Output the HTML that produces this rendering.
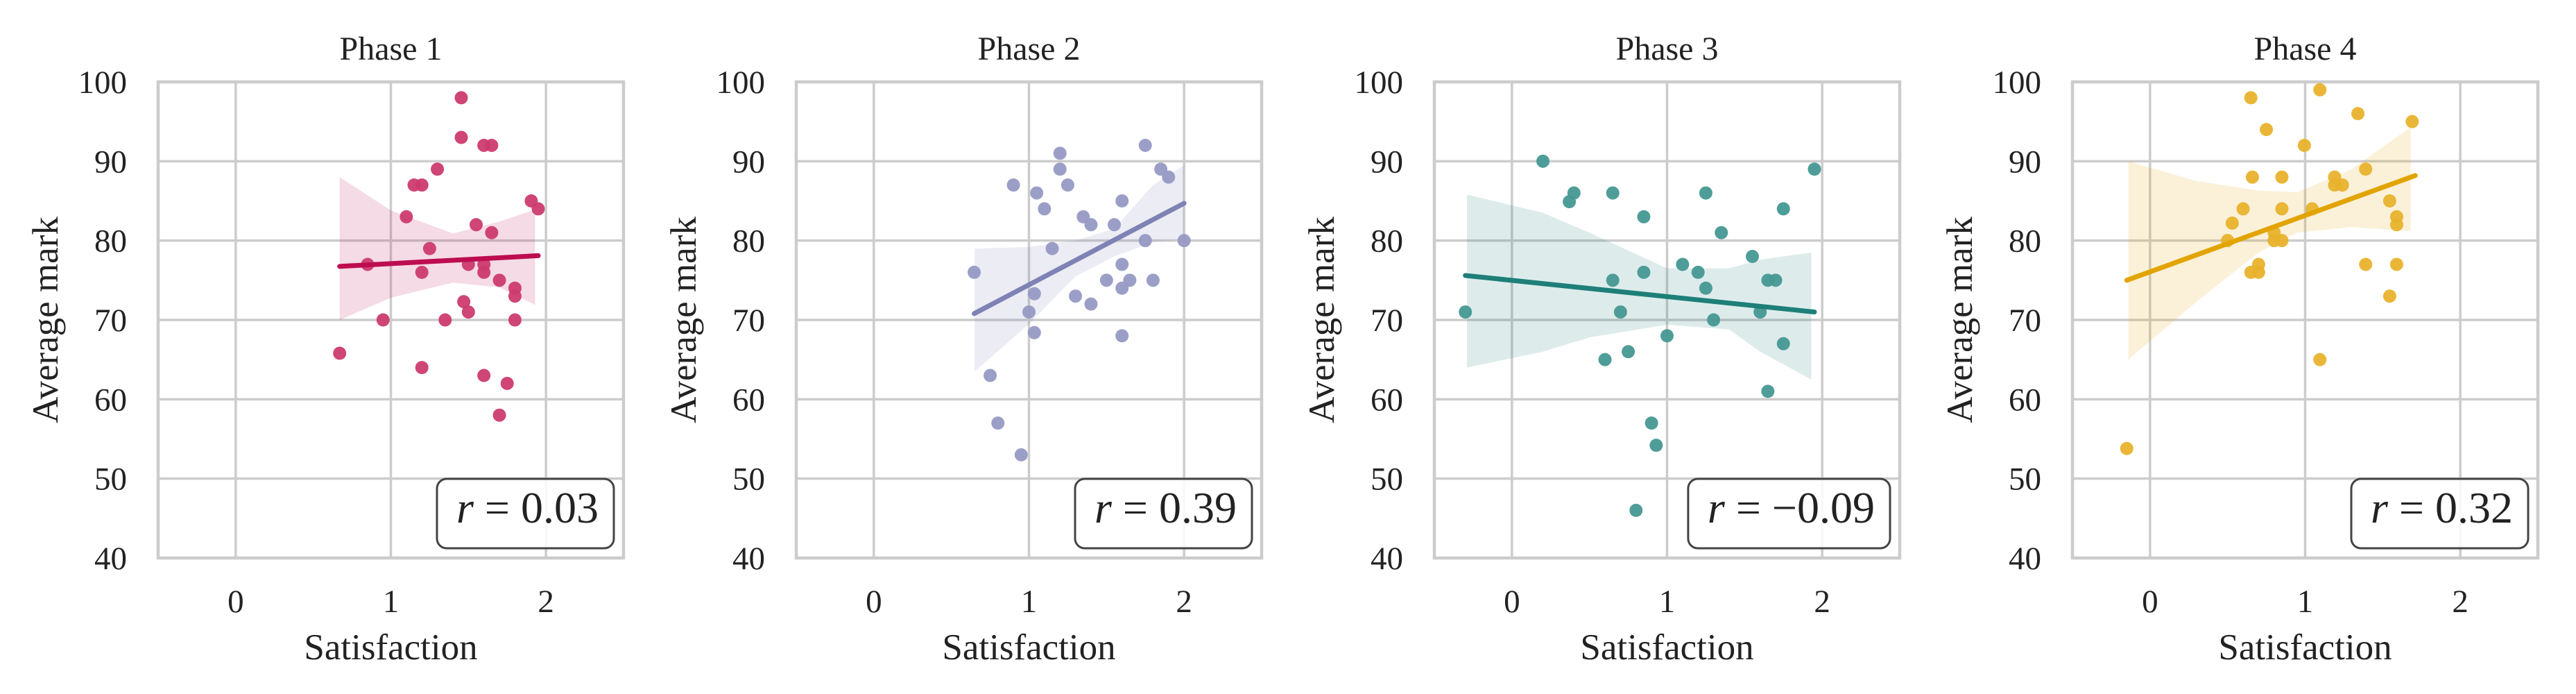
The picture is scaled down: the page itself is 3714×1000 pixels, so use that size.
<!DOCTYPE html>
<html><head><meta charset="utf-8"><style>
html,body{margin:0;padding:0;background:#fff;}
svg{display:block;font-family:"Liberation Serif",serif;}
</style></head><body>
<svg id="fig" width="3714" height="1000" viewBox="0 0 3714 1000" xmlns="http://www.w3.org/2000/svg"></svg>
<script>
const phaseTitles = ["Phase 1","Phase 2","Phase 3","Phase 4"];
const rLabels = ["0.03","0.39","\u22120.09","0.32"];
const xTicks = [0,1,2];
const yTicks = [40,50,60,70,80,90,100];
const p1x = [1.454,1.454,1.60,1.65,1.30,1.15,1.20,1.10,1.905,1.95,1.55,1.65,1.25,0.85,1.50,1.60,1.20,1.60,1.70,1.80,1.80,1.47,1.50,0.95,1.35,1.80,0.67,1.20,1.60,1.75,1.70];
const p1y = [98,93,92,92,89,87,87,83,85,84,82,81,79,77,77,77,76,76,75,74,73,72.3,71,70,70,70,65.8,64,63,62,58];
const p2x = [0.647,0.90,1.05,1.20,1.20,1.25,1.10,1.75,1.85,1.90,1.60,1.35,1.40,1.55,1.15,1.75,2.00,1.60,1.50,1.65,1.80,1.60,1.035,1.30,1.40,1.00,1.035,1.60,0.75,0.80,0.95];
const p2y = [76,87,86,91,89,87,84,92,89,88,85,83,82,82,79,80,80,77,75,75,75,74,73.3,73,72,71,68.4,68,63,57,53];
const p3x = [-0.30,0.20,0.37,0.40,0.65,0.85,0.65,0.85,0.70,0.60,0.75,1.00,1.10,1.20,1.25,1.25,1.35,1.30,1.55,1.65,1.70,1.60,1.75,1.75,1.65,1.95,0.90,0.93,0.80];
const p3y = [71,90,84.9,86,86,83,75,76,71,65,66,68,77,76,86,74,81,70,78,75,75,71,84,67,61,89,57,54.2,46];
const p4x = [-0.15,0.65,1.095,0.75,1.34,1.69,0.995,0.66,0.85,1.19,1.19,1.24,1.39,1.545,0.60,0.85,1.045,0.53,1.59,1.59,0.50,0.80,0.80,0.85,0.70,0.65,0.70,1.39,1.59,1.545,1.095];
const p4y = [53.8,98,99,94,96,95,92,88,88,88,87,87,89,85,84,84,84,82.2,83,82,80,81,80,80,77,76,76,77,77,73,65];
const seriesX = [p1x,p2x,p3x,p4x];
const seriesY = [p1y,p2y,p3y,p4y];
// fitted regression endpoints
const fitX = [[0.67,1.95],[0.647,2.0],[-0.30,1.95],[-0.15,1.71]];
const fitY = [[76.75,78.1],[70.8,84.7],[75.6,71.0],[75.0,88.2]];
// confidence band samples
const bandX1 = [0.67,1.0,1.4,1.7,1.93];
const bandUp1 = [88,83.8,80.9,82.4,83.9];
const bandLo1 = [70,72.8,74.7,74.1,71.9];
const bandX2 = [0.65,1.0,1.3,1.55,1.8,2.0];
const bandUp2 = [79,79.2,80,81.5,87,89.5];
const bandLo2 = [63.5,69.5,75.5,78,79.8,80.2];
const bandX3 = [-0.29,0.2,0.5,1.0,1.4,1.6,1.93];
const bandUp3 = [85.8,83.5,81,76.5,76.5,77.6,78.5];
const bandLo3 = [64,66,67.8,69.4,68.8,66,62.5];
const bandX4 = [-0.14,0.3,0.7,0.95,1.3,1.68];
const bandUp4 = [90,87.5,86.3,86.1,89,94.3];
const bandLo4 = [65,72.3,78.5,81,81.7,81.2];
const bandXs=[bandX1,bandX2,bandX3,bandX4], bandUps=[bandUp1,bandUp2,bandUp3,bandUp4], bandLos=[bandLo1,bandLo2,bandLo3,bandLo4];
const lineColors = ["#bd0d50","#7e82b4","#1e7f79","#e2a400"];
const dotColors = ["#cc3b6e","#969ac4","#469892","#e8b22c"];

const NS="http://www.w3.org/2000/svg";
const svg=document.getElementById('fig');
function mk(tag,attrs,parent){const e=document.createElementNS(NS,tag);for(const k in attrs)e.setAttribute(k,attrs[k]);(parent||svg).appendChild(e);return e;}
const lefts=[228,1148,2068,2988], W=671, topY=118, bottomY=804;

phaseTitles.forEach((title,i)=>{
  const L=lefts[i];
  const g=mk('g',{});
  
  
  const sx=v=>L+(v+0.5)/3*W;
  const sy=v=>bottomY-(v-40)/60*(bottomY-topY);
  yTicks.forEach(t=>{
    const l=mk('line',{x1:L,x2:L+W,y1:sy(t),y2:sy(t),stroke:'#cccccc','stroke-width':3.5},g);
    
    
    const tx=mk('text',{x:L-45,y:sy(t)+16,'text-anchor':'end','font-size':47,fill:'#222'},g);
    tx.textContent=t;
    
    
  });
  xTicks.forEach(t=>{
    const l=mk('line',{x1:sx(t),x2:sx(t),y1:topY,y2:bottomY,stroke:'#cccccc','stroke-width':3.5},g);
    
    
    const tx=mk('text',{x:sx(t),y:882,'text-anchor':'middle','font-size':47,fill:'#222'},g);
    tx.textContent=t;
    
    
  });
  const fr=mk('rect',{x:L,y:topY,width:W,height:bottomY-topY,fill:'none',stroke:'#cccccc','stroke-width':4.5},g);
  
  
  const bxs=bandXs[i], bu=bandUps[i], bl=bandLos[i];
  const pts=bxs.map((x,k)=>sx(x)+','+sy(bu[k])).concat(bxs.map((x,k)=>sx(x)+','+sy(bl[k])).reverse());
  const band=mk('polygon',{points:pts.join(' '),fill:lineColors[i],'fill-opacity':0.15},g);
  
  
  const xs=seriesX[i], ys=seriesY[i];
  xs.forEach((x,k)=>{
    const c=mk('circle',{cx:sx(x),cy:sy(ys[k]),r:9.5,fill:dotColors[i],'fill-opacity':0.95},g);
    
    
  });
  const rl=mk('line',{x1:sx(fitX[i][0]),y1:sy(fitY[i][0]),x2:sx(fitX[i][1]),y2:sy(fitY[i][1]),stroke:lineColors[i],'stroke-width':7,'stroke-linecap':'round'},g);
  
  
  const bx=mk('rect',{y:690,height:100,rx:14,fill:'#fff','fill-opacity':0.85,stroke:'#444','stroke-width':3},g);
  
  
  const rt=mk('text',{x:L+W-36,y:753,'text-anchor':'end','font-size':64,fill:'#222'},g);
  
  
  const ri=mk('tspan',{'font-style':'italic'},rt);ri.textContent='r';
  const rv=mk('tspan',{},rt);rv.textContent=' = '+rLabels[i];
  let tw=0;
  try{tw=rt.getComputedTextLength();}catch(e){tw=0;}
  if(!tw||!isFinite(tw))tw=(2+rLabels[i].length+2)*30;
  bx.setAttribute('x',L+W-14-tw-50);bx.setAttribute('width',tw+50);
  const tt=mk('text',{x:L+W/2,y:86,'text-anchor':'middle','font-size':48,fill:'#222'},g);
  tt.textContent=title;
  
  
  const xl=mk('text',{x:L+W/2,y:950,'text-anchor':'middle','font-size':53,fill:'#222'},g);
  xl.textContent='Satisfaction';
  
  
  const yl=mk('text',{x:0,y:0,'text-anchor':'middle','font-size':53,fill:'#222',transform:`translate(${L-145},${(topY+bottomY)/2}) rotate(-90)`},g);
  yl.textContent='Average mark';
  
  
});
</script>
</body></html>
